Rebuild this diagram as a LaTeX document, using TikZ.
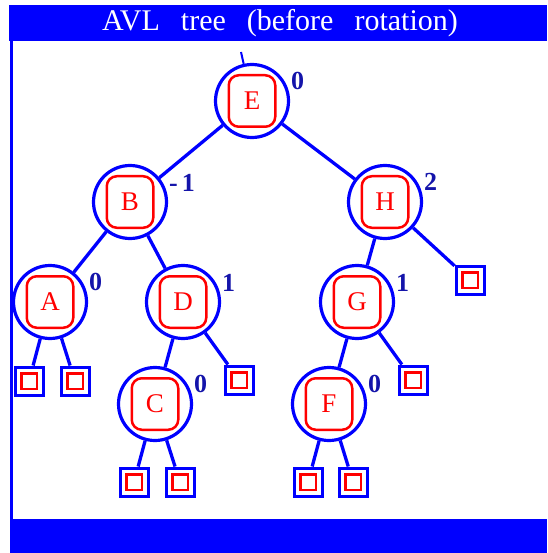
\documentclass[tikz,border=0pt]{standalone}
\usepackage{fontspec}
\setmainfont{Liberation Serif}
\definecolor{avl-blue}{RGB}{0,0,255}
\definecolor{avl-navy}{RGB}{20,20,170}
\definecolor{avl-red}{RGB}{255,0,0}

\tikzset{
  avl/.style={circle, draw=avl-blue, line width=3.2pt, fill=white,
    minimum size=73pt, inner sep=0pt, text=avl-red,
    font=\fontsize{27}{27}\selectfont,
    path picture={\draw[avl-red, line width=2.5pt, rounded corners=10pt]
      (path picture bounding box.center) ++(-23.25pt,-25.75pt) rectangle ++(46.5pt,51.5pt);}},
  nil/.style={rectangle, draw=avl-blue, line width=3pt, fill=white,
    minimum size=28pt, inner sep=0pt,
    path picture={\draw[avl-red, line width=2.5pt]
      (path picture bounding box.center) ++(-7.75pt,-7.75pt) rectangle ++(15.5pt,15.5pt);}},
  bal/.style={anchor=west, inner sep=0pt, text=avl-navy,
    font=\fontsize{26}{26}\selectfont\bfseries},
  branch/.style={draw=avl-blue, line width=3.3pt},
}

\begin{document}
\begin{tikzpicture}[x=1pt, y=-1pt]
        \useasboundingbox (0,0) rectangle (547,553);

        % frame
        \fill[avl-blue] (9,5) rectangle (547,41);
        \draw[avl-blue, line width=3pt] (11.5,41) -- (11.5,520);
        \fill[avl-blue] (10,519) rectangle (547,553);
        \node[text=white, font=\fontsize{30}{30}\selectfont, inner sep=0pt] (title) at (280,23)
          {AVL\hspace{21pt}tree\hspace{21pt}(before\hspace{21pt}rotation)};

        % keys
        \node[avl] (E) at (252,101) {E};
        \node[avl] (B) at (130,202) {B};
        \node[avl] (H) at (385,202) {H};
        \node[avl] (A) at (50,302) {A};
        \node[avl] (D) at (183,302) {D};
        \node[avl] (G) at (357,302) {G};
        \node[avl] (C) at (155,404) {C};
        \node[avl] (F) at (329,404) {F};

        % empty subtrees
        \node[nil] (nA1) at (29,381) {};
        \node[nil] (nA2) at (75,381) {};
        \node[nil] (nD) at (239,380) {};
        \node[nil] (nH) at (470,280) {};
        \node[nil] (nG) at (413,380) {};
        \node[nil] (nC1) at (134,482) {};
        \node[nil] (nC2) at (180,482) {};
        \node[nil] (nF1) at (308,482) {};
        \node[nil] (nF2) at (353,482) {};

        % balance factors
        \node[bal] (bE) at ([shift={(39,-20)}]E.center) {0};
        \node[bal] (bB) at ([shift={(39,-19)}]B.center) {-\hspace{4pt}1};
        \node[bal] (bH) at ([shift={(39,-20)}]H.center) {2};
        \node[bal] (bA) at ([shift={(39,-20)}]A.center) {0};
        \node[bal] (bD) at ([shift={(39,-19)}]D.center) {1};
        \node[bal] (bG) at ([shift={(39,-19)}]G.center) {1};
        \node[bal] (bC) at ([shift={(39,-20)}]C.center) {0};
        \node[bal] (bF) at ([shift={(39,-20)}]F.center) {0};

        \coordinate (up) at (241,52);
        \draw[branch, line width=2pt] (up) -- (E);
        \draw[branch] (E) -- (B);
        \draw[branch] (E) -- (H);
        \draw[branch] (B) -- (A);
        \draw[branch] (B) -- (D);
        \draw[branch] (H) -- (G);
        \draw[branch] (H) -- (nH);
        \draw[branch] (A) -- (nA1);
        \draw[branch] (A) -- (nA2);
        \draw[branch] (D) -- (C);
        \draw[branch] (D) -- (nD);
        \draw[branch] (G) -- (F);
        \draw[branch] (G) -- (nG);
        \draw[branch] (C) -- (nC1);
        \draw[branch] (C) -- (nC2);
        \draw[branch] (F) -- (nF1);
        \draw[branch] (F) -- (nF2);
\end{tikzpicture}
\end{document}
